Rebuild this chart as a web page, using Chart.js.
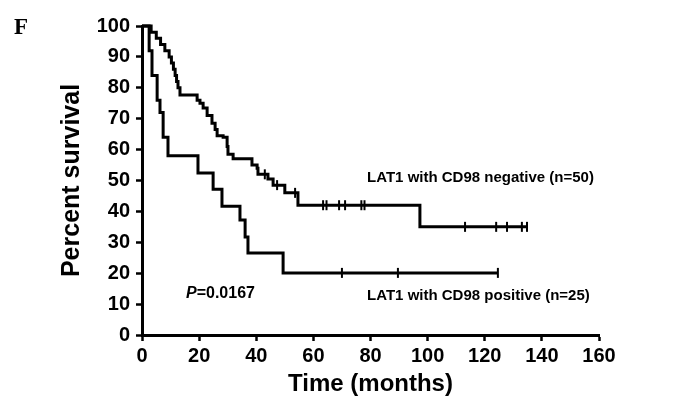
<!DOCTYPE html>
<html>
<head>
<meta charset="utf-8">
<script src="https://cdn.jsdelivr.net/npm/chart.js@4.4.1/dist/chart.umd.min.js"></script>
<style>
  html, body { margin: 0; padding: 0; background: #fff; }
  #wrap { width: 688px; height: 409px; }
</style>
</head>
<body>
<div id="wrap"><canvas id="km" width="688" height="409"></canvas></div>
<script>
// Kaplan-Meier curves (time in months, % survival after each drop)
const negTimes = [0, 3.2, 5, 6.5, 8, 9.5, 10.3, 11, 11.6, 12.1, 12.6, 13.3, 19.3, 20.3, 21.4, 22.8, 24.5, 25.6, 26.3, 28.4, 29.8, 30.1, 31.9, 38.5, 40.3, 40.6, 44.1, 45.9, 50, 54.6, 97.3, 135];
const negSurv  = [100, 98, 96, 94, 92, 90, 88, 86, 84, 82, 80, 77.7, 76, 75, 73.5, 71, 68.5, 66.5, 64.5, 64, 61, 58.5, 57, 55, 54, 52, 50.5, 48.5, 46, 42, 35, 35];
const posTimes = [0, 2.5, 3.5, 5.3, 6.3, 7.4, 9.1, 19.6, 24.9, 28, 34.3, 36.1, 37.1, 49.4, 124.6];
const posSurv  = [100, 92, 84, 76, 72, 64, 58, 52.4, 47.2, 41.7, 37.2, 31.7, 26.5, 20.1, 20.1];

// censored observations
const negCensorT = [43, 47.3, 53.6, 63.4, 64.6, 69, 71.1, 76.8, 77.9, 113.1, 124, 127.8, 133, 134.8];
const negCensorS = [52, 48.5, 46, 42, 42, 42, 42, 42, 42, 35, 35, 35, 35, 35];
const posCensorT = [70, 89.6, 124.6];
const posCensorS = [20.1, 20.1, 20.1];

const xTicks = [0, 20, 40, 60, 80, 100, 120, 140, 160];
const yTicks = [0, 10, 20, 30, 40, 50, 60, 70, 80, 90, 100];

const labelNeg = "LAT1 with CD98 negative (n=50)";
const labelPos = "LAT1 with CD98 positive (n=25)";
const pValue = "=0.0167";

const FONT = "'Liberation Sans', Arial, Helvetica, sans-serif";

function toPoints(xs, ys) {
    return xs.map((x, i) => ({ x: x, y: ys[i] }));
}

function stepSet(xs, ys) {
    return {
        type: 'line',
        data: toPoints(xs, ys),
        stepped: 'before',
        borderColor: '#000',
        borderWidth: 3,
        pointRadius: 0,
        fill: false,
        clip: false
    };
}

function censorSet(xs, ys) {
    return {
        type: 'scatter',
        data: toPoints(xs, ys),
        pointStyle: 'line',
        rotation: 90,
        pointRadius: 5,
        borderColor: '#000',
        borderWidth: 2,
        clip: false
    };
}

// texts placed in data units so they follow the axes
const textPlugin = {
    id: 'kmText',
    afterDraw(chart) {
        const ctx = chart.ctx;
        const xs = chart.scales.x, ys = chart.scales.y;
        ctx.save();
        ctx.fillStyle = '#000';
        ctx.textBaseline = 'middle';
        ctx.textAlign = 'left';

        ctx.font = "bold 15px " + FONT;
        ctx.fillText(labelNeg, xs.getPixelForValue(78.8), ys.getPixelForValue(50.8));
        ctx.fillText(labelPos, xs.getPixelForValue(78.8), ys.getPixelForValue(12.6));

        const px = xs.getPixelForValue(15.4), py = ys.getPixelForValue(13.3);
        ctx.font = "italic bold 16px " + FONT;
        ctx.fillText("P", px, py);
        const w = ctx.measureText("P").width;
        ctx.font = "bold 16px " + FONT;
        ctx.fillText(pValue, px + w, py);

        ctx.font = "bold 23px 'Liberation Serif', 'Times New Roman', serif";
        ctx.fillText("F", 14, 28);
        ctx.restore();
    }
};

const axisLook = {
    grid: { drawOnChartArea: false, drawTicks: true, tickLength: 6, tickWidth: 2.5, tickColor: '#000' },
    border: { display: true, color: '#000', width: 3 }
};

new Chart(document.getElementById('km'), {
    data: {
        datasets: [
            stepSet(negTimes, negSurv),
            stepSet(posTimes, posSurv),
            censorSet(negCensorT, negCensorS),
            censorSet(posCensorT, posCensorS)
        ]
    },
    options: {
        responsive: false,
        animation: false,
        layout: { padding: { top: 26, right: 89, left: 0, bottom: 0 } },
        plugins: { legend: { display: false }, tooltip: { enabled: false } },
        scales: {
            x: {
                type: 'linear',
                min: 0, max: 160,
                afterBuildTicks: s => { s.ticks = xTicks.map(v => ({ value: v })); },
                afterFit: s => { s.height = 74; },
                ticks: { color: '#000', padding: 3, maxRotation: 0, font: { family: FONT, size: 20, weight: 'bold' } },
                title: { display: true, text: 'Time (months)', color: '#000', padding: { top: 0, bottom: 10 },
                         font: { family: FONT, size: 24, weight: 'bold' } },
                ...axisLook
            },
            y: {
                type: 'linear',
                min: 0, max: 100,
                afterBuildTicks: s => { s.ticks = yTicks.map(v => ({ value: v })); },
                afterFit: s => { s.width = 142; },
                ticks: { color: '#000', padding: 6, font: { family: FONT, size: 20, weight: 'bold' } },
                title: { display: true, text: 'Percent survival', color: '#000', padding: { top: 57, bottom: 0 },
                         font: { family: FONT, size: 25, weight: 'bold' } },
                ...axisLook
            }
        }
    },
    plugins: [textPlugin]
});
</script>
</body>
</html>
